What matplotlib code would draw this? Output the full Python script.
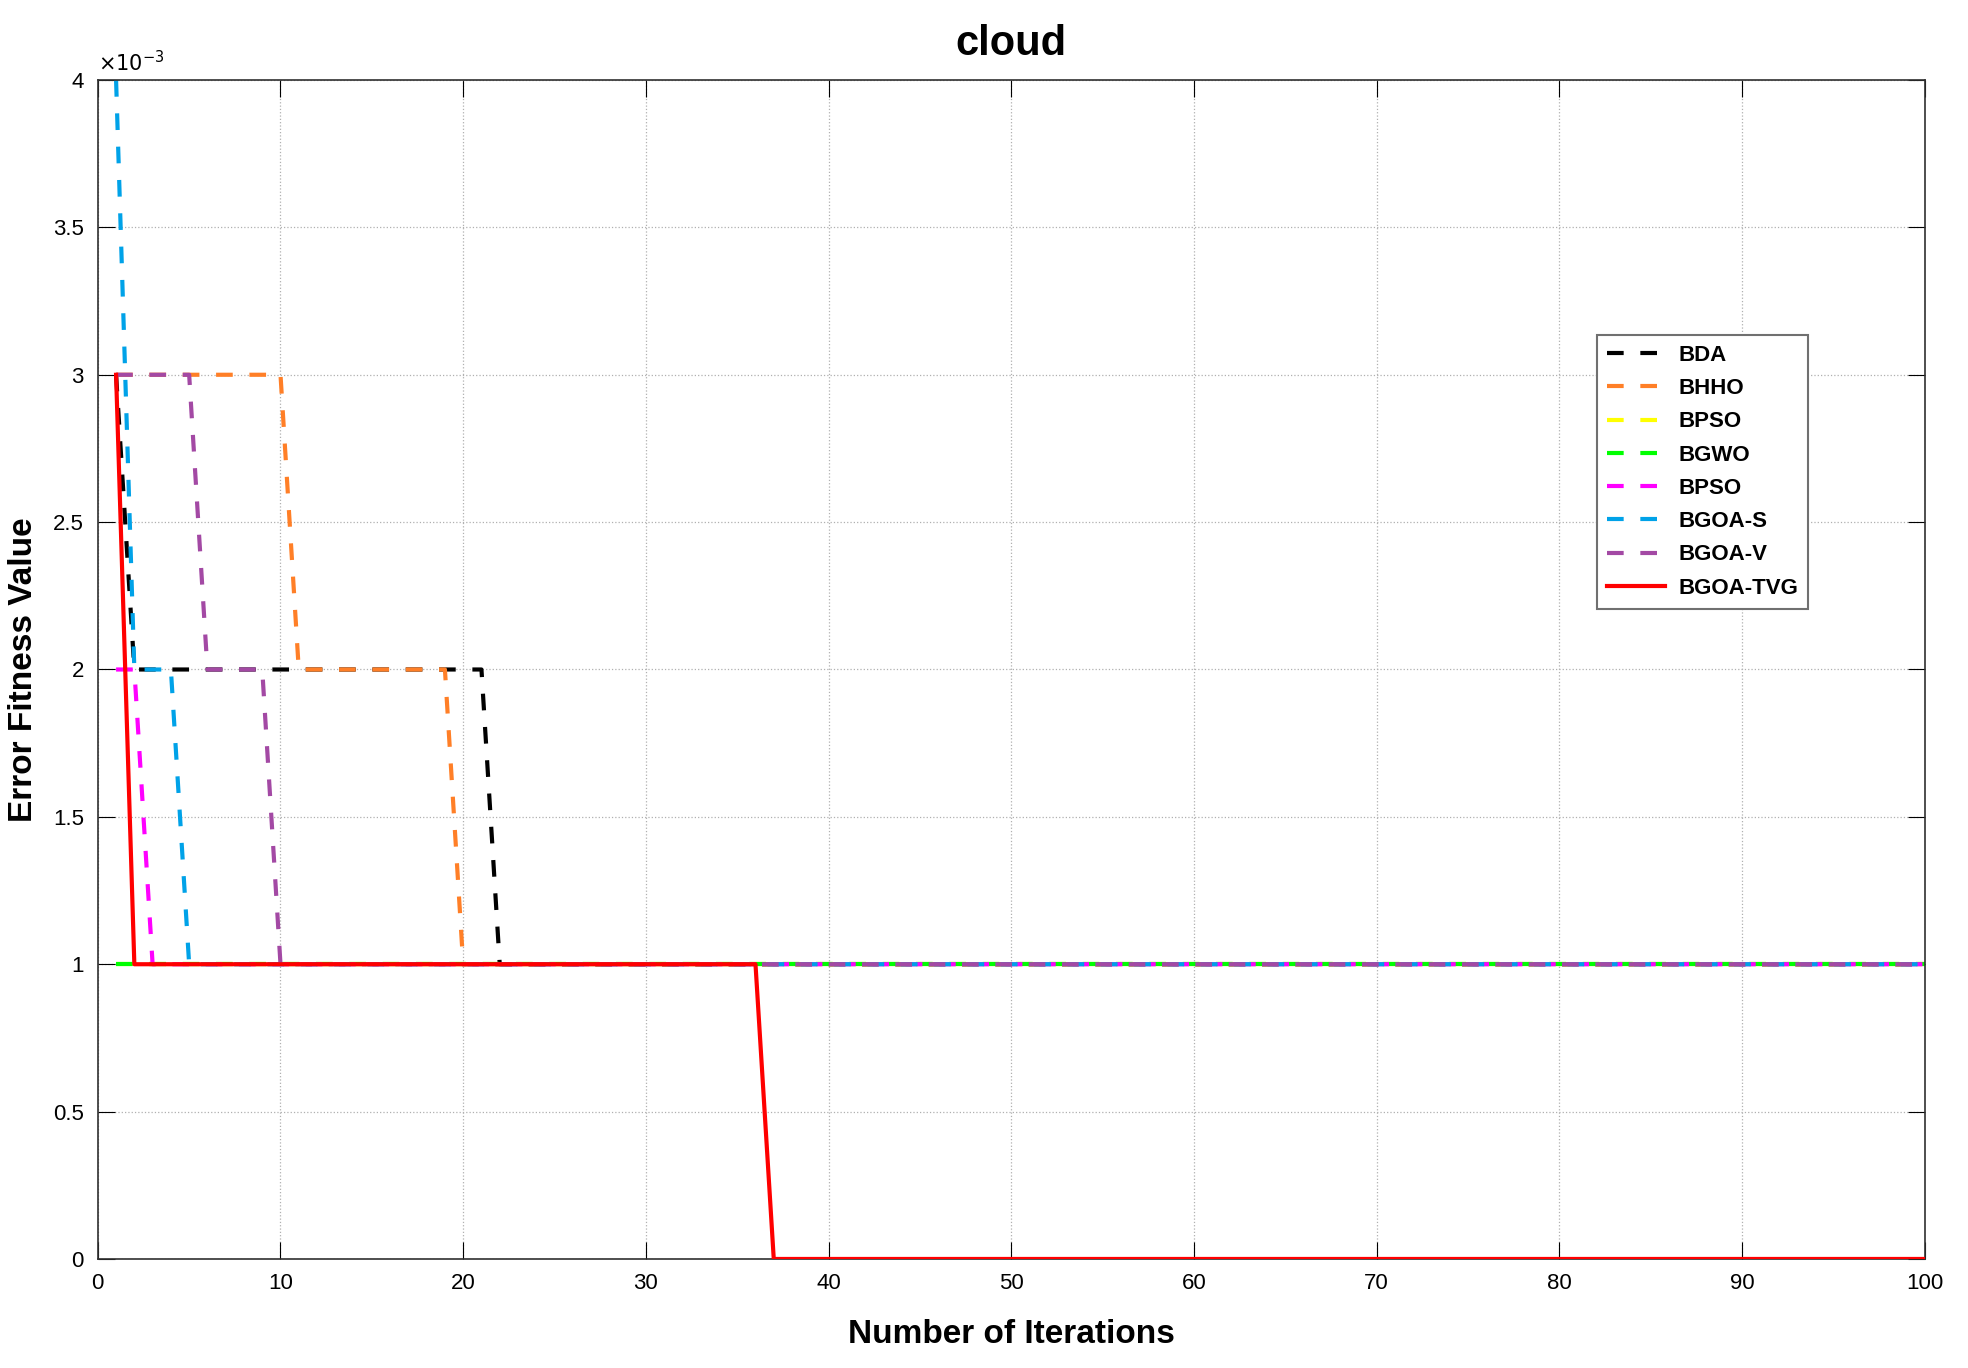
import numpy as np
import matplotlib
matplotlib.use("Agg")
import matplotlib.pyplot as plt
from matplotlib.ticker import FuncFormatter

plt.rcParams['font.family'] = ['Liberation Sans', 'DejaVu Sans']

# iterations 1..100
iters = np.arange(1, 101)

# error fitness value per algorithm (x 1e-3), as step levels
bda    = [3] + [2] * 20 + [1] * 79
bhho   = [3] * 10 + [2] * 9 + [1] * 81
bpso_y = [1] * 100
bgwo   = [1] * 100
bpso_m = [2] * 2 + [1] * 98
bgoa_s = [4] + [2] * 3 + [1] * 96
bgoa_v = [3] * 5 + [2] * 4 + [1] * 91
bgoa_tvg = [3] + [1] * 35 + [0] * 64

names  = ['BDA', 'BHHO', 'BPSO', 'BGWO', 'BPSO', 'BGOA-S', 'BGOA-V', 'BGOA-TVG']
series = [bda, bhho, bpso_y, bgwo, bpso_m, bgoa_s, bgoa_v, bgoa_tvg]
colors = ['#000000', '#FF7F27', '#FFFF00', '#00FF00', '#FF00FF', '#00A2E8', '#A349A4', '#FF0000']

fig = plt.figure(figsize=(19.68, 13.68), dpi=100)
ax = fig.add_axes([0.0497, 0.0797, 0.9283, 0.8618])

for name, vals, c in zip(names, series, colors):
    y = np.array(vals) * 1e-3
    if name == 'BGOA-TVG':
        ax.plot(iters, y, color=c, lw=3, ls='-', label=name, zorder=10)
    else:
        ax.plot(iters, y, color=c, lw=3, ls=(0, (4, 4)), label=name)

ax.set_xlim(0, 100)
ax.set_ylim(0, 4e-3)
ax.set_xticks(np.arange(0, 101, 10))
ax.set_yticks(np.arange(0, 4.01e-3, 0.5e-3))
ax.yaxis.set_major_formatter(FuncFormatter(lambda v, p: '%g' % round(v * 1e3, 3)))
ax.text(0.0, 1.004, r'$\times10^{-3}$', transform=ax.transAxes, fontsize=15,
        ha='left', va='bottom')

ax.tick_params(direction='in', length=12, labelsize=16, top=True, right=True, pad=10)
ax.grid(True, ls=':', color='#b0b0b0', lw=0.9)
for s in ax.spines.values():
    s.set_color('#303030')
    s.set_linewidth(1.2)

ax.set_title('cloud', fontsize=30, fontweight='bold', pad=18)
ax.set_xlabel('Number of Iterations', fontsize=24, fontweight='bold', labelpad=18)
ax.set_ylabel('Error Fitness Value', fontsize=24, fontweight='bold')
ax.yaxis.set_label_coords(-0.032, 0.5)

leg = ax.legend(loc='upper left', bbox_to_anchor=(0.8206, 0.7837), borderaxespad=0,
                prop={'weight': 'bold', 'size': 16}, handlelength=2.6,
                fancybox=False, framealpha=1, edgecolor='#707070',
                borderpad=0.45, labelspacing=0.55, handletextpad=0.6)
leg.get_frame().set_linewidth(1.5)

fig.savefig('out.png', dpi=100)
